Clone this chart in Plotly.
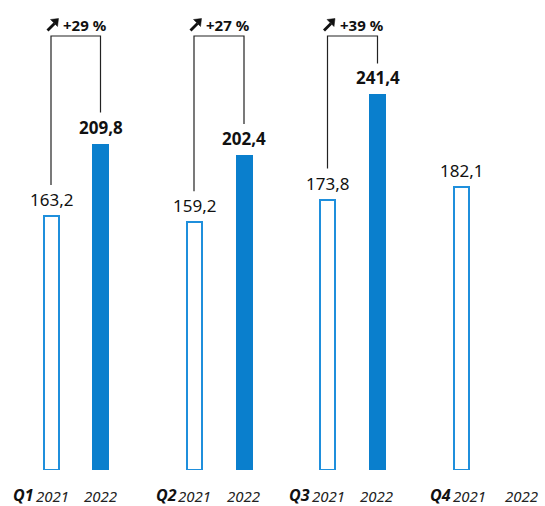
import plotly.graph_objects as go

# ---- data ----
quarters = ["Q1", "Q2", "Q3", "Q4"]
years = ["2021", "2022"]
v2021 = [163.2, 159.2, 173.8, 182.1]
v2022 = [209.8, 202.4, 241.4, None]
growth = ["+29 %", "+27 %", "+39 %", None]

# ---- layout constants (pixel-like x units) ----
W, H = 545, 506
BOTTOM = 36
PX_PER_UNIT = 1.556
x2021 = [51, 194, 327.5, 461.5]
x2022 = [100.5, 244, 377.5, 511]
lab2021 = [52, 194.5, 328, 469]
lab2022 = [100, 243.5, 376.5, 521]
FILL = "#0a7fcd"
OUTLINE = "#1f8fdc"
TXT = "#111111"
FONT = "Noto Sans"

yrange_top = (H - BOTTOM) / PX_PER_UNIT
bracket_top = (H - BOTTOM - 36) / PX_PER_UNIT
gap_units = 31 / PX_PER_UNIT

fig = go.Figure()

fig.add_trace(go.Bar(
    x=x2021, y=v2021, width=15,
    marker=dict(color="white", line=dict(color=OUTLINE, width=2)),
    hoverinfo="skip", showlegend=False,
))
xs22 = [x for x, v in zip(x2022, v2022) if v is not None]
vs22 = [v for v in v2022 if v is not None]
fig.add_trace(go.Bar(
    x=xs22, y=vs22, width=17,
    marker=dict(color=FILL, line=dict(width=0)),
    hoverinfo="skip", showlegend=False,
))

def fmt(v):
    return f"{v:.1f}".replace(".", ",")

annotations = []
shapes = []
for x, v in zip(x2021, v2021):
    annotations.append(dict(x=x, y=v, text=fmt(v), showarrow=False,
                            xanchor="center", yanchor="bottom", yshift=3,
                            font=dict(family=FONT, size=17, color=TXT)))
for x, v in zip(x2022, v2022):
    if v is None:
        continue
    annotations.append(dict(x=x, y=v, text=f"<b>{fmt(v)}</b>", showarrow=False,
                            xanchor="center", yanchor="bottom", yshift=3,
                            font=dict(family=FONT, size=17, color=TXT)))

def pt(x0, dx, dy_up):
    """point relative to bracket corner: dx px right, dy_up px above bracket top"""
    return x0 + dx, bracket_top + dy_up / PX_PER_UNIT

# brackets with growth arrows
for i, g in enumerate(growth):
    if g is None:
        continue
    fig.add_trace(go.Scatter(
        x=[x2021[i], x2021[i], x2022[i], x2022[i]],
        y=[v2021[i] + gap_units, bracket_top, bracket_top, v2022[i] + gap_units],
        mode="lines", line=dict(color="#222222", width=1.2),
        hoverinfo="skip", showlegend=False,
    ))
    x0 = x2021[i]
    tx, ty = pt(x0, -3.5, 5.5)
    hx, hy = pt(x0, 3.5, 12.5)
    shapes.append(dict(type="line", xref="x", yref="y", x0=tx, y0=ty, x1=hx, y1=hy,
                       line=dict(color=TXT, width=2.8)))
    p1 = pt(x0, 7.5, 17.5)
    p2 = pt(x0, -0.5, 16.5)
    p3 = pt(x0, 6.5, 9.5)
    path = f"M {p1[0]},{p1[1]} L {p2[0]},{p2[1]} L {p3[0]},{p3[1]} Z"
    shapes.append(dict(type="path", xref="x", yref="y", path=path,
                       fillcolor=TXT, line=dict(color=TXT, width=0.5)))
    annotations.append(dict(x=x0 + 10, y=bracket_top,
                            text=f"<b>{g}</b>", showarrow=False,
                            xanchor="left", yanchor="middle", yshift=11,
                            font=dict(family=FONT, size=15, color=TXT)))

# bottom labels
for i, q in enumerate(quarters):
    annotations.append(dict(x=lab2021[i], y=0, text=f"<i>{years[0]}</i>", showarrow=False,
                            xanchor="center", yanchor="top", yshift=-14,
                            font=dict(family=FONT, size=15, color="#222222")))
    annotations.append(dict(x=lab2022[i], y=0, text=f"<i>{years[1]}</i>", showarrow=False,
                            xanchor="center", yanchor="top", yshift=-14,
                            font=dict(family=FONT, size=15, color="#222222")))
    annotations.append(dict(x=lab2021[i] - 16, y=0, text=f"<b><i>{q}</i></b>", showarrow=False,
                            xanchor="right", yanchor="top", yshift=-12,
                            font=dict(family=FONT, size=16, color="#111111")))

fig.update_layout(
    width=W, height=H,
    margin=dict(l=0, r=0, t=0, b=BOTTOM),
    paper_bgcolor="white", plot_bgcolor="white",
    xaxis=dict(range=[0, W], visible=False, fixedrange=True),
    yaxis=dict(range=[0, yrange_top], visible=False, fixedrange=True),
    annotations=annotations,
    shapes=shapes,
    bargap=0,
)

fig.write_html("out.html")
